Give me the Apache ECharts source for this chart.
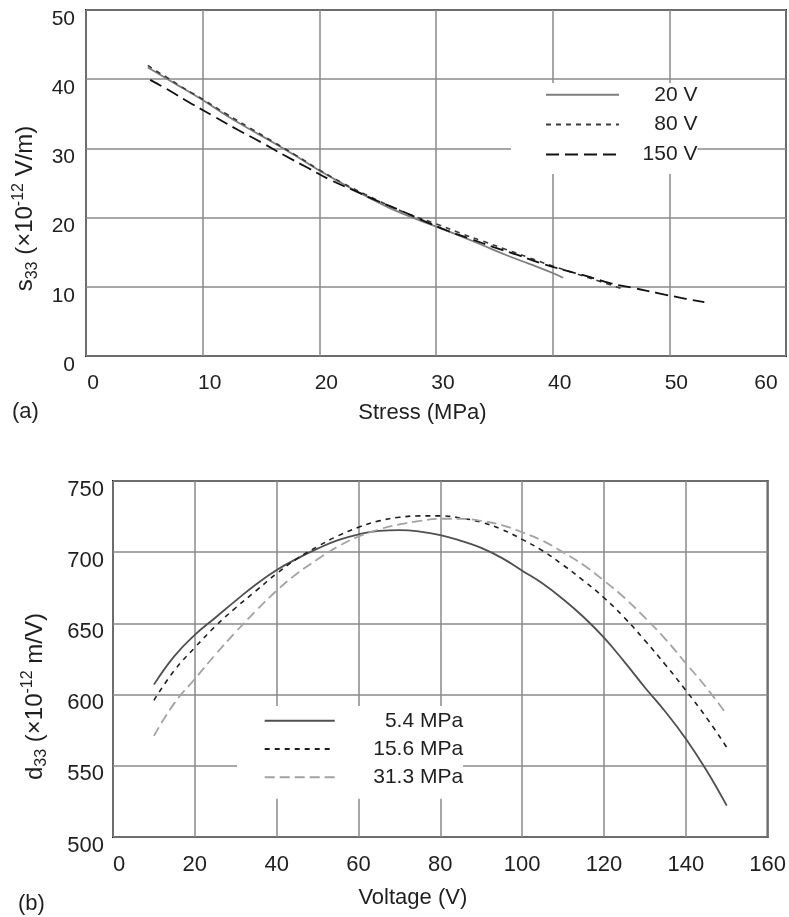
<!DOCTYPE html>
<html><head><meta charset="utf-8">
<script src="https://cdn.jsdelivr.net/npm/echarts@6/dist/echarts.min.js"></script>
<style>html,body{margin:0;padding:0;background:#fff}#c{width:789px;height:917px}</style>
</head><body><div id="c"></div>
<script>
// ---------- panel (a): s33 vs stress ----------
const stressTicks = [0, 10, 20, 30, 40, 50, 60];
const s33Ticks = [0, 10, 20, 30, 40, 50];
const x20V = [5.3, 6, 7, 8, 9, 10, 12, 14, 16, 18, 20, 22, 24, 26, 28, 30, 32, 34, 36, 38, 40, 40.9];
const y20V = [41.7, 41.0, 40.0, 39.0, 38.0, 37.0, 34.8, 32.8, 30.9, 28.9, 26.8, 24.9, 23.1, 21.4, 20.0, 18.7, 17.4, 16.0, 14.6, 13.3, 12.0, 11.3];
const x80V = [5.3, 6, 7, 8, 9, 10, 12, 14, 16, 18, 20, 22, 24, 26, 28, 30, 32, 34, 36, 38, 40, 42, 44, 46];
const y80V = [42.0, 41.2, 40.2, 39.1, 38.1, 37.1, 35.0, 33.0, 31.0, 29.0, 26.9, 25.0, 23.3, 21.7, 20.3, 19.1, 17.8, 16.6, 15.4, 14.2, 13.0, 11.9, 10.8, 9.7];
const x150V = [5.5, 7, 9, 11, 13, 15, 17, 19, 21, 23, 25, 27, 29, 31, 33, 35, 37, 39, 41, 43, 45, 47, 49, 51, 53];
const y150V = [39.9, 38.5, 36.5, 34.6, 32.7, 30.9, 29.0, 27.2, 25.4, 23.9, 22.4, 21.0, 19.5, 18.1, 16.9, 15.7, 14.6, 13.4, 12.4, 11.5, 10.5, 9.8, 9.1, 8.4, 7.8];

// ---------- panel (b): d33 vs voltage ----------
const voltTicks = [0, 20, 40, 60, 80, 100, 120, 140, 160];
const d33Ticks = [500, 550, 600, 650, 700, 750];
const volt = [10, 15, 20, 25, 30, 35, 40, 45, 50, 55, 60, 65, 70, 75, 80, 85, 90, 95, 100, 105, 110, 115, 120, 125, 130, 135, 140, 145, 150];
const d5_4 = [607, 627, 642, 654, 666, 677.5, 687.5, 695.5, 702.5, 708.5, 712.5, 715, 715.5, 714.5, 712, 708, 703, 696, 687, 678, 667, 654.5, 640, 623, 605, 588, 569, 547, 522];
const d15_6 = [596, 617, 633, 648, 661, 673, 685, 695.5, 704, 711.5, 717.5, 722, 724.5, 725.5, 725.5, 724, 721, 716, 709, 701, 691, 680, 668, 654, 638, 621, 603, 584, 563];
const d31_3 = [571, 594, 611, 628, 644, 659, 673, 685, 695, 704, 711, 716, 719.5, 722, 723.5, 723.5, 722, 719, 714, 708, 700, 691, 680, 668, 654, 639, 622, 605, 586];

const namesA = ['20 V', '80 V', '150 V'];
const namesB = ['5.4 MPa', '15.6 MPa', '31.3 MPa'];

const FONT = 'Liberation Sans, Arial, Helvetica, sans-serif';
const TXT = '#1f1f1f';
const zip = (xs, ys) => xs.map((x, i) => [x, ys[i]]);

const chart = echarts.init(document.getElementById('c'), null, {renderer: 'canvas'});

const gridLine = {show: true, lineStyle: {color: '#8a8a8a', width: 1.5}};

function lineSeries(name, data, xi, color, width, dash) {
  return {
    name, type: 'line', xAxisIndex: xi, yAxisIndex: xi, data,
    symbol: 'none', showSymbol: false, smooth: 0.45, silent: true,
    lineStyle: {color, width, type: dash},
    itemStyle: {color},
    z: 3
  };
}

const legendBase = {
  orient: 'vertical', itemHeight: 14, selectedMode: false, backgroundColor: '#fff',
  itemStyle: {color: 'transparent', borderColor: 'transparent', borderWidth: 0, opacity: 0},
  formatter: n => '{t|' + n + '}'
};

const option = {
  backgroundColor: '#fff',
  animation: false,
  textStyle: {fontFamily: FONT, color: TXT},
  grid: [
    {left: 86, top: 10, width: 700, height: 346, show: true, borderColor: '#1a1a1a', borderWidth: 2, backgroundColor: 'transparent'},
    {left: 113, top: 481, width: 671, height: 356, show: true, borderColor: '#1a1a1a', borderWidth: 2, backgroundColor: 'transparent'}
  ],
  xAxis: [
    {
      type: 'value', gridIndex: 0, min: stressTicks[0], max: stressTicks[stressTicks.length - 1], interval: 10,
      axisLine: {show: false}, axisTick: {show: false}, splitLine: gridLine,
      axisLabel: {
        fontSize: 21, fontFamily: FONT, color: TXT, margin: 17, padding: [0, 0, 0, 14],
        formatter: v => v === 60 ? '{r|60}' : String(v),
        rich: {r: {fontSize: 21, fontFamily: FONT, color: TXT, padding: [0, 54, 0, 0]}}
      },
      name: 'Stress (MPa)', nameLocation: 'middle', nameGap: 46,
      nameTextStyle: {fontSize: 22, fontFamily: FONT, color: TXT, padding: [0, 27, 0, 0]}
    },
    {
      type: 'value', gridIndex: 1, min: voltTicks[0], max: voltTicks[voltTicks.length - 1], interval: 20,
      axisLine: {show: false}, axisTick: {show: false}, splitLine: gridLine,
      axisLabel: {
        fontSize: 22, fontFamily: FONT, color: TXT, margin: 17,
        formatter: v => v === 0 ? '{z|0}' : String(v),
        rich: {z: {fontSize: 22, fontFamily: FONT, color: TXT, padding: [0, 0, 0, 12]}}
      },
      name: 'Voltage (V)', nameLocation: 'middle', nameGap: 50,
      nameTextStyle: {fontSize: 22, fontFamily: FONT, color: TXT, padding: [0, 55, 0, 0]}
    }
  ],
  yAxis: [
    {
      type: 'value', gridIndex: 0, min: s33Ticks[0], max: s33Ticks[s33Ticks.length - 1], interval: 10,
      axisLine: {show: false}, axisTick: {show: false}, splitLine: gridLine,
      axisLabel: {fontSize: 21, fontFamily: FONT, color: TXT, margin: 11, verticalAlign: 'top', lineHeight: 18},
      name: 's{sub|33} (×10{sup|-12} V/m)', nameLocation: 'middle', nameGap: 31,
      nameTextStyle: {
        fontSize: 24, fontFamily: FONT, color: TXT, padding: [0, 51, 0, 0], lineHeight: 30,
        rich: {
          sub: {fontSize: 16, fontFamily: FONT, color: TXT, verticalAlign: 'bottom', lineHeight: 20},
          sup: {fontSize: 16, fontFamily: FONT, color: TXT, verticalAlign: 'top', lineHeight: 16}
        }
      }
    },
    {
      type: 'value', gridIndex: 1, min: d33Ticks[0], max: d33Ticks[d33Ticks.length - 1], interval: 50,
      axisLine: {show: false}, axisTick: {show: false}, splitLine: gridLine,
      axisLabel: {fontSize: 22, fontFamily: FONT, color: TXT, margin: 9, verticalAlign: 'top', lineHeight: 17},
      name: 'd{sub|33} (×10{sup|-12} m/V)', nameLocation: 'middle', nameGap: 63,
      nameTextStyle: {
        fontSize: 24, fontFamily: FONT, color: TXT, padding: [0, 75, 0, 0], lineHeight: 30,
        rich: {
          sub: {fontSize: 16, fontFamily: FONT, color: TXT, verticalAlign: 'bottom', lineHeight: 20},
          sup: {fontSize: 16, fontFamily: FONT, color: TXT, verticalAlign: 'top', lineHeight: 16}
        }
      }
    }
  ],
  legend: [
    Object.assign({}, legendBase, {
      data: namesA, left: 511, top: 83,
      padding: [1.3, 0, 9, 34], itemWidth: 73, itemGap: 8.8,
      textStyle: {rich: {t: {width: 73.4, align: 'right', fontSize: 21, lineHeight: 20, fontFamily: FONT, color: TXT}}}
    }),
    Object.assign({}, legendBase, {
      data: namesB, left: 237, top: 706,
      padding: [4.3, 0, 11, 26.7], itemWidth: 70, itemGap: 7.2,
      textStyle: {rich: {t: {width: 123.4, align: 'right', fontSize: 21, lineHeight: 20, fontFamily: FONT, color: TXT}}}
    })
  ],
  graphic: [
    {type: 'text', left: 12, top: 401, style: {text: '(a)', font: '22px ' + FONT, fill: TXT}},
    {type: 'text', left: 18, top: 893, style: {text: '(b)', font: '22px ' + FONT, fill: TXT}}
  ],
  series: [
    lineSeries(namesA[0], zip(x20V, y20V), 0, '#7d7d7d', 1.8, 'solid'),
    lineSeries(namesA[1], zip(x80V, y80V), 0, '#3a3a3a', 1.6, [5, 5]),
    lineSeries(namesA[2], zip(x150V, y150V), 0, '#111111', 1.8, [13, 6]),
    lineSeries(namesB[0], zip(volt, d5_4), 1, '#4f4f4f', 1.8, 'solid'),
    lineSeries(namesB[1], zip(volt, d15_6), 1, '#1e1e1e', 1.6, [5, 5]),
    lineSeries(namesB[2], zip(volt, d31_3), 1, '#a3a3a3', 1.8, [10, 5])
  ]
};
chart.setOption(option);
</script>
</body></html>
